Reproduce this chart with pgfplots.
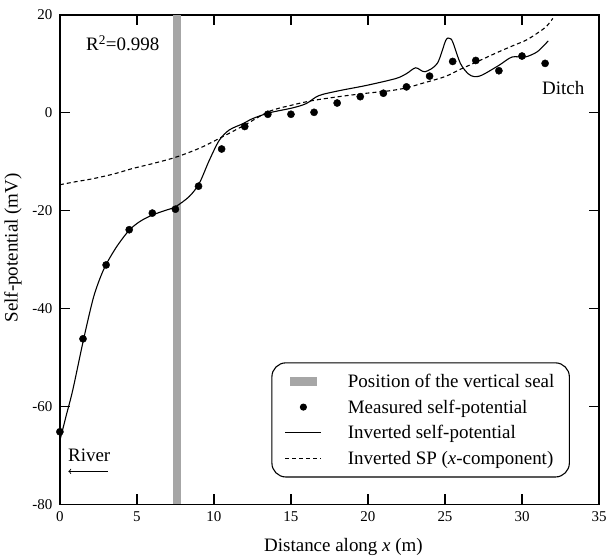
\documentclass[border=0pt]{standalone}
\usepackage{fontspec}
\setmainfont{Liberation Serif}
\usepackage{pgfplots}
\pgfplotsset{compat=1.18}
\newcommand{\fs}{\fontsize{15}{18}\selectfont}
\newcommand{\fl}{\fontsize{19}{22}\selectfont}
\begin{document}
\begin{tikzpicture}
\begin{axis}[
  scale only axis, width=540pt, height=490pt,
  at={(0,0)}, anchor=south west,
  xmin=0, xmax=35, ymin=-80, ymax=20,
  xtick={0,5,...,35}, ytick={-80,-60,...,20},
  xtick pos=both, xticklabel pos=left,
  ytick pos=both, yticklabel pos=left,
  tick align=inside, major tick length=10pt,
  axis line style={line width=1.2pt},
  tick style={black, line width=1.3pt},
  /pgf/number format/assume math mode=true,
  ticklabel style={font=\fs},
  xticklabel style={yshift=-4pt},
  yticklabel style={xshift=-4pt},
  xlabel={Distance along \textit{x} (m)},
  ylabel={Self-potential (mV)},
  xlabel style={font=\fl, at={(axis description cs:0.526,0)}, anchor=center, yshift=-43pt},
  ylabel style={font=\fl, at={(axis description cs:0,0.524)}, anchor=center, yshift=47pt},
  legend style={at={(0.946,0.29)}, anchor=north east, draw=black, line width=1.1pt,
    rounded corners=14pt, font=\fl, row sep=7pt, inner ysep=9pt, inner xsep=13pt,
    column sep=24pt},
  legend cell align=left,
]
% legend images
\addlegendimage{legend image code/.code={\fill[black!35, sharp corners] (5pt,-4pt) rectangle (31pt,4pt);}}
\addlegendentry{Position of the vertical seal}
\addlegendimage{only marks, mark=*, mark size=3pt, black,
  legend image code/.code={\draw[mark repeat=2,mark phase=2] plot coordinates {(0pt,0pt)(18pt,0pt)(36pt,0pt)};}}
\addlegendentry{Measured self-potential}
\addlegendimage{black, line width=1.1pt,
  legend image code/.code={\draw[sharp corners] plot coordinates {(0pt,0pt)(36pt,0pt)};}}
\addlegendentry{Inverted self-potential}
\addlegendimage{black, line width=1.1pt, dash pattern=on 4pt off 3pt,
  legend image code/.code={\draw[sharp corners] plot coordinates {(0pt,0pt)(36pt,0pt)};}}
\addlegendentry{Inverted SP (\textit{x}-component)}

% vertical seal
\addplot[forget plot, fill=black!35, draw=none] coordinates {(7.33,-80) (7.83,-80) (7.83,20) (7.33,20)} -- cycle;

% inverted SP (x-component)
\addplot[forget plot, black, line width=1.1pt, dash pattern=on 4pt off 3pt, smooth] coordinates {
(0,-14.7)(1,-14.1)(2.1,-13.5)(3.5,-12.5)(4.7,-11.4)(6,-10.4)(7.3,-9.3)(8.3,-8.2)(9.3,-6.9)
(10.8,-4.5)(12.0,-2.5)(13.6,0.3)(15.1,1.6)(16.4,2.5)(18.1,3.3)(19.9,4.0)(21.4,4.5)(22.5,5.1)
(23.5,6.0)(25.0,7.4)(26,8.9)(27.2,10.6)(28.3,12.2)(29.4,13.7)(30.3,14.9)(31.1,16.5)(31.6,17.7)(32.0,19.3)
};

% inverted self-potential
\addplot[forget plot, black, line width=1.1pt, smooth, tension=0.5] coordinates {
(0,-67)(0.4,-62)(0.84,-56.6)(1.53,-46.4)(2.14,-38.2)(2.57,-34.1)(3.0,-31.0)(3.7,-27.3)(4.5,-24.0)
(5.2,-22.2)(6.0,-20.9)(6.8,-20.0)(7.5,-19.2)(8.4,-17.1)(9.05,-14.4)(9.7,-9.7)(10.35,-5.6)(11.0,-3.5)
(11.9,-2.2)(12.5,-1.2)(13.6,0.0)(15.1,1.0)(16.0,1.9)(16.8,3.5)(18.1,4.5)(19.9,5.6)(21.8,7.0)(22.5,8.0)
(23.1,9.2)(23.7,8.4)(24.5,10.1)(25.05,14.8)(25.3,15.2)(25.5,14.5)(26.0,10.1)(26.5,8.0)(26.9,7.4)
(27.4,7.7)(28.5,9.7)(29.35,11.4)(30.2,11.4)(31.0,12.5)(31.7,14.7)
};

% measured self-potential
\addplot[forget plot, only marks, mark=*, mark size=3.6pt, black] coordinates {
(0,-65.2)(1.5,-46.2)(3,-31.1)(4.5,-23.9)(6,-20.5)(7.5,-19.7)(9,-15.0)(10.5,-7.4)(12,-2.8)
(13.5,-0.3)(15,-0.3)(16.5,0.1)(18,2.0)(19.5,3.3)(21,4.0)(22.5,5.3)(24,7.5)(25.5,10.5)
(27,10.7)(28.5,8.6)(30,11.6)(31.5,10.1)
};

\node[font=\fl, anchor=base west, inner sep=0pt] at (axis cs:1.69,12.65) {R\textsuperscript{2}=0.998};
\node[font=\fl, anchor=base west, inner sep=0pt] at (axis cs:31.3,3.8) {Ditch};
\node[font=\fl, anchor=base west, inner sep=0pt] at (axis cs:0.52,-71.3) {River};
\draw[->, line width=0.9pt] (axis cs:3.1,-73.3) -- (axis cs:0.55,-73.3);
\end{axis}
\pgfresetboundingbox
\useasboundingbox (-60pt,-54pt) rectangle (553pt,505pt);
\end{tikzpicture}
\end{document}
